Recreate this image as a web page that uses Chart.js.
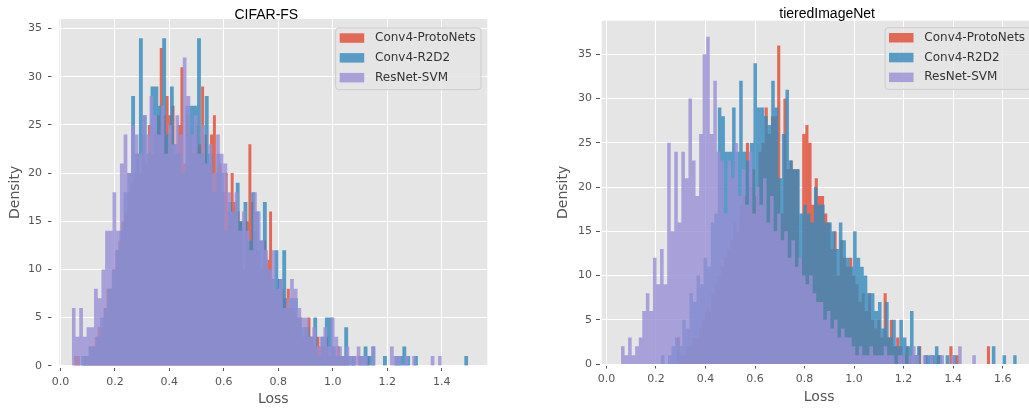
<!DOCTYPE html>
<html>
<head>
<meta charset="utf-8">
<script src="https://cdn.jsdelivr.net/npm/chart.js@4"></script>
<style>
  html, body { margin: 0; padding: 0; background: #fff; overflow: hidden; }
  #wrap { position: relative; width: 1029px; height: 411px; overflow: hidden; }
  canvas { position: absolute; top: 0; }
</style>
</head>
<body>
<div id="wrap">
  <canvas id="cifar" width="510" height="411" style="left:0"></canvas>
  <canvas id="tiered" width="614" height="411" style="left:520px"></canvas>
</div>
<script>
// series names, same order in both panels
const seriesNames = ['Conv4-ProtoNets', 'Conv4-R2D2', 'ResNet-SVM'];

// histogram counts (100 bins each) and the range the bins cover
// CIFAR-FS
const cifarProtoRange = [0.05, 1.135];
const cifarProtoCounts = [
  1, 1, 0, 1, 1, 2, 2, 3, 4, 4,
  6, 8, 8, 10, 12, 13, 15, 16, 18, 19,
  20, 22, 20, 24, 21, 25, 22, 24, 26, 33,
  26, 28, 26, 27, 22, 25, 31, 21, 26, 24,
  22, 25, 23, 29, 24, 21, 24, 26, 20, 21,
  18, 20, 16, 20, 17, 16, 15, 10, 15, 23,
  17, 14, 12, 10, 13, 11, 16, 9, 8, 9,
  8, 7, 8, 6, 6, 5, 5, 3, 4, 5,
  3, 2, 3, 2, 2, 3, 1, 2, 1, 2,
  1, 1, 1, 0, 1, 0, 1, 0, 0, 1
];
const cifarR2d2Range = [0.075, 1.497];
const cifarR2d2Counts = [
  1, 1, 2, 2, 3, 5, 6, 8, 10, 12,
  14, 18, 20, 28, 22, 34, 26, 22, 29, 29,
  27, 34, 24, 29, 23, 22, 20, 27, 27, 27,
  34, 22, 28, 22, 18, 22, 20, 14, 17, 16,
  19, 15, 17, 13, 18, 16, 13, 17, 10, 9,
  12, 9, 12, 6, 7, 7, 5, 4, 4, 3,
  5, 1, 3, 5, 5, 2, 1, 1, 4, 1,
  1, 0, 1, 2, 1, 2, 0, 0, 1, 0,
  0, 1, 1, 2, 1, 0, 1, 0, 0, 0,
  0, 0, 0, 0, 0, 0, 0, 0, 0, 1
];
const cifarSvmRange = [0.042, 1.400];
const cifarSvmCounts = [
  6, 3, 6, 3, 4, 4, 8, 7, 10, 14,
  14, 18, 14, 21, 24, 20, 25, 24, 22, 26,
  24, 28, 26, 24, 27, 22, 25, 23, 26, 24,
  32, 28, 24, 26, 22, 25, 21, 23, 20, 24,
  22, 21, 18, 16, 18, 14, 16, 14, 12, 18,
  16, 13, 12, 10, 12, 8, 9, 6, 7, 9,
  8, 6, 5, 5, 3, 4, 2, 3, 4, 2,
  5, 3, 2, 1, 2, 1, 1, 2, 1, 1,
  0, 2, 0, 0, 0, 0, 2, 1, 1, 0,
  1, 0, 1, 0, 0, 0, 0, 1, 0, 1
];

// tieredImageNet
const tieredProtoRange = [0.285, 1.549];
const tieredProtoCounts = [
  3, 1, 1, 2, 2, 3, 3, 4, 5, 6,
  6, 8, 9, 10, 11, 12, 13, 14, 16, 15,
  18, 19, 25, 20, 22, 19, 24, 25, 29, 26,
  28, 28, 36, 17, 30, 22, 23, 22, 22, 12,
  26, 27, 25, 18, 21, 19, 19, 17, 16, 13,
  15, 10, 14, 12, 11, 12, 10, 9, 7, 8,
  6, 8, 5, 4, 5, 3, 8, 3, 5, 2,
  3, 2, 1, 2, 1, 0, 1, 2, 0, 1,
  0, 1, 0, 1, 0, 0, 0, 2, 0, 1,
  0, 0, 0, 0, 0, 0, 0, 0, 0, 2
];
const tieredR2d2Range = [0.22, 1.657];
const tieredR2d2Counts = [
  1, 0, 1, 2, 3, 2, 5, 4, 8, 7,
  10, 9, 12, 11, 16, 17, 29, 28, 24, 24,
  29, 24, 32, 24, 23, 25, 34, 29, 29, 28,
  27, 32, 29, 21, 26, 31, 23, 22, 22, 17,
  18, 17, 16, 20, 18, 18, 16, 16, 15, 13,
  16, 14, 12, 11, 15, 12, 11, 10, 8, 8,
  6, 7, 4, 7, 3, 5, 2, 5, 3, 2,
  6, 1, 2, 0, 1, 1, 1, 2, 1, 0,
  1, 0, 1, 0, 0, 0, 0, 0, 0, 0,
  0, 0, 0, 2, 0, 0, 1, 0, 0, 1
];
const tieredSvmRange = [0.059, 1.492];
const tieredSvmCounts = [
  2, 1, 3, 1, 2, 3, 6, 8, 6, 12,
  9, 13, 9, 25, 15, 24, 16, 24, 21, 30,
  23, 19, 26, 35, 37, 26, 32, 24, 23, 17,
  23, 21, 25, 19, 22, 18, 24, 17, 20, 18,
  21, 16, 19, 15, 17, 14, 15, 12, 14, 11,
  12, 10, 9, 10, 8, 7, 7, 5, 6, 4,
  5, 3, 4, 3, 3, 2, 1, 2, 1, 1,
  2, 1, 1, 1, 2, 1, 1, 0, 1, 1,
  0, 1, 2, 1, 0, 1, 0, 1, 0, 0,
  1, 0, 0, 1, 0, 2, 0, 0, 0, 1
];

// ggplot-style colours
const seriesColors = ['rgba(226,74,51,0.8)', 'rgba(52,138,189,0.8)', 'rgba(152,142,213,0.8)'];
const tickFont = { family: 'DejaVu Sans', size: 11 };
const labelFont = { family: 'DejaVu Sans', size: 14 };

// turn counts into step points: bin left edges, then close at the last edge
function histPoints(range, counts) {
  const lo = range[0], hi = range[1];
  const w = (hi - lo) / counts.length;
  const pts = [{ x: lo, y: 0 }];
  counts.forEach((c, i) => pts.push({ x: lo + i * w, y: c }));
  pts.push({ x: hi, y: 0 });
  return pts;
}

function histDataset(i, range, counts) {
  return {
    label: seriesNames[i],
    data: histPoints(range, counts),
    stepped: 'before',
    fill: 'origin',
    backgroundColor: seriesColors[i],
    borderColor: 'transparent',
    borderWidth: 0,
    pointRadius: 0,
    order: 2 - i   // last series drawn on top
  };
}

// grey plotting area
const plotBg = {
  id: 'plotBg',
  beforeDraw(chart) {
    const { ctx, chartArea: a } = chart;
    ctx.save();
    ctx.fillStyle = '#E5E5E5';
    ctx.fillRect(a.left, a.top, a.right - a.left, a.bottom - a.top);
    ctx.restore();
  }
};

// panel title
const panelTitle = {
  id: 'panelTitle',
  afterDraw(chart, args, opts) {
    const { ctx, chartArea: a } = chart;
    ctx.save();
    ctx.font = '14px "Liberation Sans", Arial, sans-serif';
    ctx.fillStyle = '#000';
    ctx.textAlign = 'center';
    ctx.textBaseline = 'alphabetic';
    ctx.fillText(opts.text, (a.left + a.right) / 2 + opts.dx, opts.y);
    ctx.restore();
  }
};

// matplotlib-like legend box in the upper right of the axes
const boxLegend = {
  id: 'boxLegend',
  afterDraw(chart, args, opts) {
    const { ctx, chartArea: a } = chart;
    const x0 = a.right - 151.6, y0 = a.top + opts.top, w = 145.3, h = 61.7;
    ctx.save();
    ctx.beginPath();
    ctx.roundRect(x0, y0, w, h, 3);
    ctx.fillStyle = 'rgba(229,229,229,0.8)';
    ctx.fill();
    ctx.strokeStyle = '#cccccc';
    ctx.lineWidth = 1;
    ctx.stroke();
    ctx.font = '12px "DejaVu Sans"';
    ctx.textBaseline = 'middle';
    chart.data.datasets.forEach((ds, i) => {
      const cy = y0 + 10 + i * 19.8;
      ctx.fillStyle = ds.backgroundColor;
      ctx.fillRect(x0 + 4, cy - 4.7, 24.5, 9.5);
      ctx.fillStyle = '#333';
      ctx.fillText(ds.label, x0 + 39.3, cy);
    });
    ctx.restore();
  }
};

function makeChart(id, datasets, L) {
  return new Chart(document.getElementById(id), {
    type: 'line',
    data: { datasets: datasets },
    plugins: [plotBg, panelTitle, boxLegend],
    options: {
      responsive: false,
      animation: false,
      events: [],
      layout: { padding: { left: 0, right: L.padRight, top: L.top, bottom: 0 } },
      plugins: {
        legend: { display: false },
        tooltip: { enabled: false },
        panelTitle: { text: L.title, dx: L.titleDx, y: L.titleY },
        boxLegend: { top: L.legendTop }
      },
      scales: {
        x: {
          type: 'linear',
          min: L.xMin,
          max: L.xMax,
          afterFit: s => { s.height = L.xAxisH; },
          border: { display: false },
          grid: { color: '#ffffff', lineWidth: 1, tickColor: '#555555', tickLength: L.xTickLen, tickBorderDash: L.xTickDash },
          ticks: { stepSize: 0.2, includeBounds: false, autoSkip: false, maxRotation: 0, padding: L.xTickPad,
                   color: '#555555', font: tickFont, callback: v => v.toFixed(1) },
          title: { display: true, text: 'Loss', color: '#555555', font: labelFont, padding: { top: 0, bottom: L.xTitlePad } }
        },
        y: {
          min: 0,
          max: L.yMax,
          afterFit: s => { s.width = L.yAxisW; },
          border: { display: false },
          grid: { color: '#ffffff', lineWidth: 1, tickColor: '#555555', tickLength: L.yTickLen, tickBorderDash: L.yTickDash },
          ticks: { stepSize: 5, includeBounds: false, padding: L.yTickPad, color: '#555555', font: tickFont },
          title: { display: true, text: 'Density', color: '#555555', font: labelFont, padding: { top: L.yTitlePad, bottom: 0 } }
        }
      }
    }
  });
}

makeChart('cifar', [
  histDataset(0, cifarProtoRange, cifarProtoCounts),
  histDataset(1, cifarR2d2Range, cifarR2d2Counts),
  histDataset(2, cifarSvmRange, cifarSvmCounts)
], {
  title: 'CIFAR-FS', titleDx: -7, titleY: 19.3,
  top: 19, padRight: 22.7, yAxisW: 59.3, xAxisH: 45.3,
  xMin: -0.004, xMax: 1.567, yMax: 36,
  xTickLen: 6, xTickDash: [0, 2, 3, 20], xTickPad: 4, xTitlePad: 3.6,
  yTickLen: 11.3, yTickDash: [3.5, 20], yTickPad: 6, yTitlePad: 6.6,
  legendTop: 9
});

makeChart('tiered', [
  histDataset(0, tieredProtoRange, tieredProtoCounts),
  histDataset(1, tieredR2d2Range, tieredR2d2Counts),
  histDataset(2, tieredSvmRange, tieredSvmCounts)
], {
  title: 'tieredImageNet', titleDx: 8, titleY: 18.3,
  top: 20.7, padRight: 97.4, yAxisW: 81.7, xAxisH: 47,
  xMin: -0.019, xMax: 1.737, yMax: 38.8,
  xTickLen: 5, xTickDash: [0, 2, 2.5, 20], xTickPad: 4, xTitlePad: 5.1,
  yTickLen: 5.7, yTickDash: [4, 20], yTickPad: 4, yTitlePad: 34.9,
  legendTop: 7
});
</script>
</body>
</html>
